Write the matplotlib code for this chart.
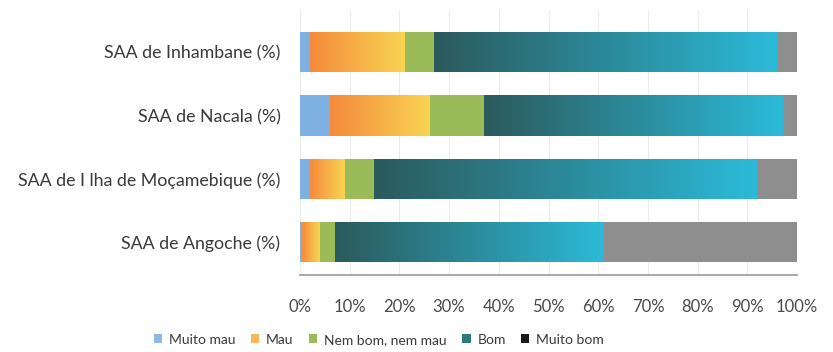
import numpy as np
import matplotlib
matplotlib.use("Agg")
import matplotlib.pyplot as plt
from matplotlib.patches import Patch
from matplotlib.colors import LinearSegmentedColormap

categories = ["SAA de Inhambane (%)", "SAA de Nacala (%)",
              "SAA de I lha de Moçamebique (%)", "SAA de Angoche (%)"]
series_names = ["Muito mau", "Mau", "Nem bom, nem mau", "Bom", "Muito bom"]
muito_mau = [2, 6, 2, 0.5]
mau = [19, 20, 7, 3.5]
nem = [6, 11, 6, 3]
bom = [69, 60, 77, 54]
muito_bom = [4, 3, 8, 39]
xticks = [0, 10, 20, 30, 40, 50, 60, 70, 80, 90, 100]
xtick_labels = [f"{t}%" for t in xticks]

values = [muito_mau, mau, nem, bom, muito_bom]
bar_colors = ["#7fb0e2", "#f7a848", "#9bbb59", "#2f7f86", "#8e8e8e"]
legend_colors = ["#8fb8e4", "#f7b860", "#9bbb59", "#2d7a78", "#1a1a1a"]
gradients = {1: ("#f58a3c", "#f8d552"), 3: ("#2c5a5c", "#2bbad8")}

plt.rcParams["font.family"] = ["Lato", "DejaVu Sans"]
fig = plt.figure(figsize=(8.33, 3.52), dpi=100)
ax = fig.add_axes([0.36, 0.219, 0.597, 0.753])

y = np.arange(len(categories))
left = np.zeros(len(categories))
for i, vals in enumerate(values):
    bars = ax.barh(y, vals, left=left, height=0.64, color=bar_colors[i],
                   edgecolor="none", zorder=2)
    if i in gradients:
        cmap = LinearSegmentedColormap.from_list("g%d" % i, gradients[i])
        grad = np.linspace(0, 1, 256).reshape(1, -1)
        for b in bars:
            x0, y0 = b.get_x(), b.get_y()
            w, h = b.get_width(), b.get_height()
            im = ax.imshow(grad, cmap=cmap, aspect="auto",
                           extent=(x0, x0 + w, y0, y0 + h), zorder=3,
                           interpolation="bicubic")
            im.set_clip_path(b)
    left = left + np.array(vals)

ax.set_xlim(0, 100)
ax.set_ylim(3.52, -0.67)
ax.set_yticks(y)
ax.set_yticklabels(categories, fontsize=12.8, color="#3a3a3a")
ax.set_xticks(xticks)
ax.set_xticklabels(xtick_labels, fontsize=12, color="#4a4a4a")
ax.tick_params(axis="x", length=0, pad=17)
ax.tick_params(axis="y", length=0, pad=14)
ax.grid(axis="x", color="#ececec", linewidth=0.8, zorder=0)
ax.set_axisbelow(True)
for s in ["top", "right", "left"]:
    ax.spines[s].set_visible(False)
ax.spines["bottom"].set_color("#9a9a9a")
ax.spines["bottom"].set_linewidth(1.2)

handles = [Patch(facecolor=c, edgecolor="none") for c in legend_colors]
fig.legend(handles, series_names, loc="center", bbox_to_anchor=(0.455, 0.035),
           ncol=5, frameon=False, fontsize=10, handlelength=0.6,
           handleheight=0.6, handletextpad=0.5, columnspacing=1.1,
           labelcolor="#3a3a3a")

fig.savefig("out.png", dpi=100)
